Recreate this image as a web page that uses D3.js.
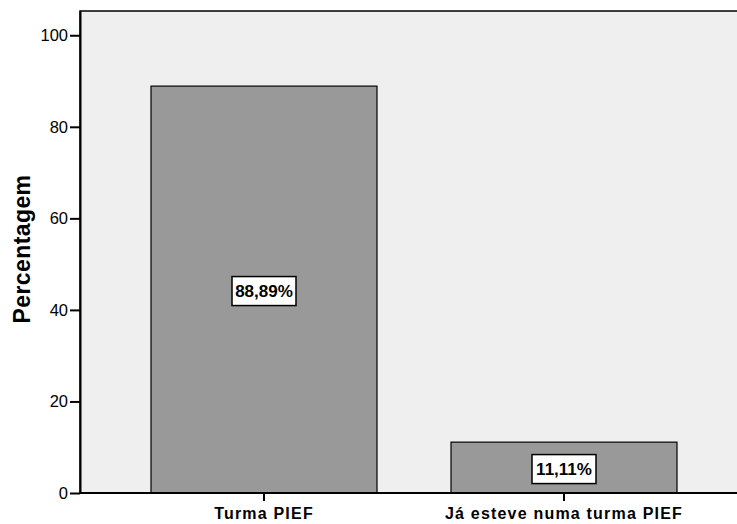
<!DOCTYPE html>
<html><head><meta charset="utf-8">
<script src="https://cdn.jsdelivr.net/npm/d3@7"></script>
<style>body{margin:0;background:#fff}svg{display:block}</style>
</head><body>
<svg id="c" width="737" height="524"></svg>
<script>
const categories = ["Turma PIEF", "Já esteve numa turma PIEF"];
const values = [88.89, 11.11];
const valueLabels = ["88,89%", "11,11%"];
const yTicks = [0, 20, 40, 60, 80, 100];
const yTitle = "Percentagem";

const svg = d3.select("#c");
const pL = 80, pT = 11, pB = 493, pR = 740;
const FONT = "Arial, Liberation Sans, sans-serif";
const y = d3.scaleLinear().domain([0, 105.3]).range([pB, pT]);
const x = d3.scaleBand().domain(categories).range([114, 714]).paddingInner(74/300).paddingOuter(37/300);

svg.append("rect").attr("x", pL).attr("y", pT).attr("width", pR - pL).attr("height", pB - pT)
  .attr("fill", "#efefef").attr("stroke", "#000").attr("stroke-width", 1.5);

svg.selectAll("rect.bar").data(values).enter().append("rect").attr("class", "bar")
  .attr("x", (d, i) => x(categories[i]))
  .attr("y", d => y(d))
  .attr("width", x.bandwidth())
  .attr("height", d => pB - y(d))
  .attr("fill", "#999999").attr("stroke", "#000").attr("stroke-width", 1.2);

// y axis
const yAxis = svg.append("g").attr("transform", `translate(${pL},0)`)
  .call(d3.axisLeft(y).tickValues(yTicks).tickSize(10).tickSizeOuter(0).tickPadding(2));
yAxis.select(".domain").attr("stroke-width", 2);
yAxis.selectAll(".tick line").attr("stroke-width", 2);
yAxis.selectAll("text").attr("font-family", FONT).attr("font-size", 16.5).attr("fill", "#000");

// x axis
const xAxis = svg.append("g").attr("transform", `translate(0,${pB})`)
  .call(d3.axisBottom(x).tickSize(8).tickSizeOuter(0));
xAxis.select(".domain").attr("d", `M${pL},0H${pR}`).attr("stroke-width", 2);
xAxis.selectAll(".tick line").attr("stroke-width", 2);
xAxis.selectAll("text").attr("font-family", FONT).attr("font-size", 16)
  .attr("font-weight", "bold").attr("fill", "#000").attr("letter-spacing", 1.2)
  .attr("y", 26).attr("dy", 0);

// value labels
values.forEach((v, i) => {
  const cx = x(categories[i]) + x.bandwidth() / 2;
  const cy = (y(v) + pB) / 2 + 1.5;
  const g = svg.append("g");
  g.append("rect").attr("x", cx - 32).attr("y", cy - 14.5).attr("width", 64).attr("height", 29)
    .attr("fill", "#fff").attr("stroke", "#000").attr("stroke-width", 1.5);
  g.append("text").attr("x", cx).attr("y", cy).attr("text-anchor", "middle").attr("dy", "0.36em")
    .attr("font-family", FONT).attr("font-size", 17).attr("font-weight", "bold")
    .text(valueLabels[i]);
});

svg.append("text").attr("transform", "translate(30,249) rotate(-90)").attr("text-anchor", "middle")
  .attr("font-family", FONT).attr("font-size", 23).attr("font-weight", "bold").attr("letter-spacing", 0.4)
  .text(yTitle);
</script>
</body></html>
